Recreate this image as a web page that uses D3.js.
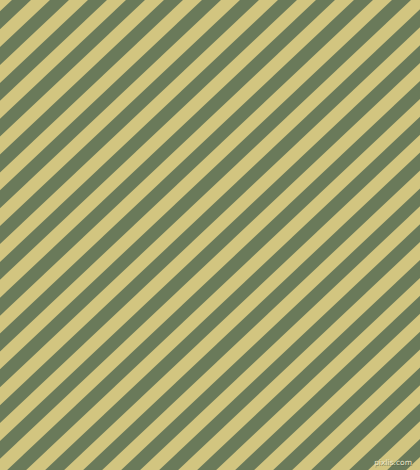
<!DOCTYPE html>
<html>
<head>
<meta charset="utf-8">
<script src="https://cdn.jsdelivr.net/npm/d3@7"></script>
<style>
  html, body { margin: 0; padding: 0; background: #d2c580; }
  svg { display: block; }
</style>
</head>
<body>
<div id="chart"></div>
<script>
// stripe pattern: two colours alternating along the diagonal
const stripeColors = ["#6a7a5a", "#d2c580"];   // green, tan
const stripeAngle = 43.3;                       // degrees, rising to the right
const stripePeriod = 26.06;                     // one green + one tan band
const stripePhase = 8.2;                        // where the first green band starts
const watermark = "pixlis.com";

document.addEventListener("DOMContentLoaded", renderPattern);

function renderPattern() {
  const width = 420;
  const height = 470;
  const rad = stripeAngle * Math.PI / 180;

  const svg = d3.select("#chart")
    .append("svg")
    .attr("width", width)
    .attr("height", height);

  // background band colour
  svg.append("rect")
    .attr("width", width)
    .attr("height", height)
    .attr("fill", stripeColors[1]);

  // v runs across the stripes, u along them
  const vMax = width * Math.sin(rad) + height * Math.cos(rad);
  const uMin = -height * Math.sin(rad) - 10;
  const uMax = width * Math.cos(rad) + 10;

  const bands = d3.range(-1, Math.ceil(vMax / stripePeriod) + 1);
  const v = d3.scaleLinear()
    .domain([0, 1])
    .range([stripePhase, stripePhase + stripePeriod]);

  const g = svg.append("g")
    .attr("transform", `rotate(${-stripeAngle})`);

  g.selectAll("rect.band")
    .data(bands)
    .enter()
    .append("rect")
    .attr("class", "band")
    .attr("x", uMin)
    .attr("width", uMax - uMin)
    .attr("y", d => v(d))
    .attr("height", stripePeriod / 2)
    .attr("fill", stripeColors[0]);

  // small site mark, bottom right (shadow + light text)
  const mark = svg.append("g")
    .attr("font-family", "DejaVu Sans, sans-serif")
    .attr("font-size", 7.5)
    .attr("text-anchor", "end");

  mark.append("text")
    .attr("x", width - 7.5)
    .attr("y", height - 4.5)
    .attr("fill", "#4f5a44")
    .attr("fill-opacity", 0.7)
    .text(watermark);

  mark.append("text")
    .attr("x", width - 8)
    .attr("y", height - 5)
    .attr("fill", "#ece6c8")
    .text(watermark);
}
</script>
</body>
</html>
